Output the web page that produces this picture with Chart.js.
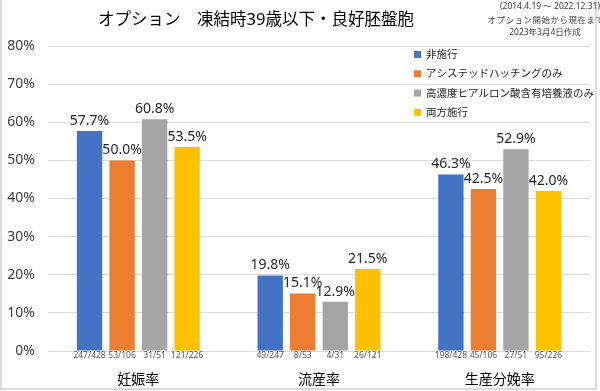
<!DOCTYPE html>
<html>
<head>
<meta charset="utf-8">
<script src="https://cdn.jsdelivr.net/npm/chart.js@4"></script>
<style>
  html, body { margin: 0; padding: 0; background: #fff; }
  #wrap { width: 600px; height: 391px; }
</style>
</head>
<body>
<div id="wrap"><canvas id="optChart" width="600" height="391"></canvas></div>
<script>
const categories = ['妊娠率', '流産率', '生産分娩率'];
const seriesLabels = ['非施行', 'アシステッドハッチングのみ', '高濃度ヒアルロン酸含有培養液のみ', '両方施行'];
const nonTreated = [57.7, 19.8, 46.3];
const ahOnly = [50.0, 15.1, 42.5];
const haOnly = [60.8, 12.9, 52.9];
const bothTreated = [53.5, 21.5, 42.0];
const nonTreatedCounts = ['247/428', '49/247', '198/428'];
const ahOnlyCounts = ['53/106', '8/53', '45/106'];
const haOnlyCounts = ['31/51', '4/31', '27/51'];
const bothTreatedCounts = ['121/226', '26/121', '95/226'];
const yTickMax = 80;
const yTickStep = 10;

const colors = ['#4472C4', '#ED7D31', '#A5A5A5', '#FFC000'];
const counts = [nonTreatedCounts, ahOnlyCounts, haOnlyCounts, bothTreatedCounts];
const FONT = "'Noto Sans', 'Noto Sans CJK JP', sans-serif";

const decorations = {
  id: 'decorations',
  afterDraw(chart) {
    const ctx = chart.ctx;
    ctx.save();

    // frame
    ctx.strokeStyle = '#d0d0d0';
    ctx.lineWidth = 1.5;
    ctx.strokeRect(1, -5, 595, 394);

    // title
    ctx.fillStyle = '#000';
    ctx.font = '16.5px ' + FONT;
    ctx.textAlign = 'center';
    ctx.textBaseline = 'middle';
    ctx.fillText('オプション　凍結時39歳以下・良好胚盤胞', 256, 20);

    // note (top right)
    ctx.font = '8.5px ' + FONT;
    ctx.fillStyle = '#404040';
    ctx.fillText('(2014.4.19 ～ 2022.12.31)', 550, 7);
    ctx.letterSpacing = '0.5px';
    ctx.fillText('オプション開始から現在まで', 546, 21);
    ctx.letterSpacing = '0px';
    ctx.fillText('2023年3月4日作成', 545, 33);

    // legend
    ctx.textAlign = 'left';
    ctx.font = '10.5px ' + FONT;
    chart.data.datasets.forEach((ds, i) => {
      const y = 55 + i * 19.3;
      ctx.fillStyle = ds.backgroundColor;
      ctx.fillRect(414, y - 4, 7, 7);
      ctx.fillStyle = '#262626';
      ctx.fillText(ds.label, 426, y);
    });

    // value labels and counts
    chart.data.datasets.forEach((ds, i) => {
      const meta = chart.getDatasetMeta(i);
      meta.data.forEach((bar, j) => {
        ctx.textAlign = 'center';
        ctx.fillStyle = '#262626';
        ctx.font = '14px ' + FONT;
        ctx.textBaseline = 'bottom';
        ctx.fillText(ds.data[j].toFixed(1) + '%', bar.x, bar.y - 3);
        ctx.fillStyle = '#595959';
        ctx.font = '8.5px ' + FONT;
        ctx.textBaseline = 'middle';
        ctx.fillText(counts[i][j], bar.x, chart.chartArea.bottom + 5);
      });
    });
    ctx.restore();
  }
};

const datasets = [nonTreated, ahOnly, haOnly, bothTreated].map((vals, i) => ({
  label: seriesLabels[i],
  data: vals,
  backgroundColor: colors[i],
  categoryPercentage: 0.72,
  barPercentage: 0.78
}));

new Chart(document.getElementById('optChart').getContext('2d'), {
  type: 'bar',
  data: { labels: categories, datasets: datasets },
  options: {
    responsive: false,
    animation: false,
    layout: { padding: { top: 46, left: 6, right: 10, bottom: 3 } },
    plugins: { legend: { display: false }, tooltip: { enabled: false } },
    scales: {
      x: {
        grid: { display: false, drawTicks: false },
        border: { display: false },
        ticks: { color: '#000', font: { family: FONT, size: 14 }, padding: 21, maxRotation: 0 },
        afterFit(scale) { scale.height = 37; }
      },
      y: {
        min: 0,
        max: yTickMax,
        grid: { color: '#d9d9d9', drawTicks: false },
        border: { display: false },
        ticks: {
          stepSize: yTickStep,
          padding: 13,
          color: '#404040',
          font: { family: FONT, size: 14 },
          callback: v => v + '%'
        },
        afterFit(scale) { scale.width = 42; }
      }
    }
  },
  plugins: [decorations]
});
</script>
</body>
</html>
